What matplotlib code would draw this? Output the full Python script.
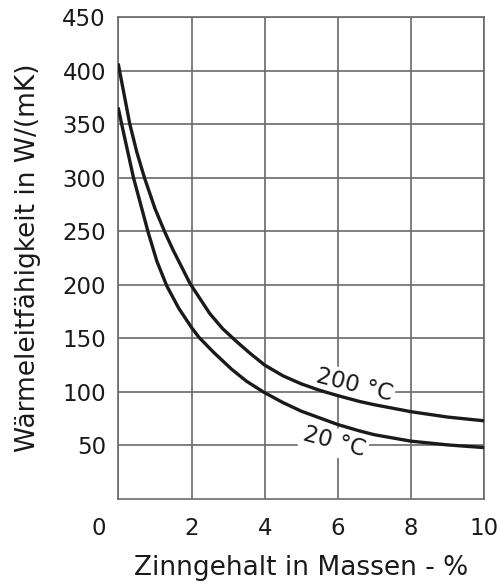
import matplotlib
matplotlib.use("Agg")
import matplotlib.pyplot as plt
from matplotlib.transforms import ScaledTranslation

plt.rcParams['font.family'] = ['DejaVu Sans']

# Werte
zinn_200 = [0, 0.31, 0.5, 0.71, 1.0, 1.27, 1.5, 1.96, 2.5, 2.85, 3.23, 3.6, 4, 4.5, 5, 5.5, 6, 6.6, 7, 8, 9, 10]
lambda_200 = [405, 350, 324, 300, 271, 249, 232, 201, 173, 159, 147, 136, 125, 115, 107.5, 101.5, 96.5, 91, 88, 81.5, 76.5, 73]

zinn_20 = [0, 0.1, 0.41, 0.82, 1.05, 1.32, 1.65, 2, 2.2, 2.6, 3.1, 3.5, 3.96, 4.5, 5, 6, 6.6, 7, 8, 9, 10]
lambda_20 = [364, 348, 300, 248, 222, 199, 178, 160, 151, 137, 121, 110, 100, 90, 82, 69.5, 63.5, 60, 54, 50.5, 48]

x_ticks = [0, 2, 4, 6, 8, 10]
y_ticks = [50, 100, 150, 200, 250, 300, 350, 400, 450]

grid_col = '#6a6a6a'
line_col = '#1a1a1a'
txt_col = '#1a1a1a'

fig = plt.figure(figsize=(5.01, 5.86), dpi=100)
ax = fig.add_axes([0.2365, 0.1485, 0.7295, 0.8225])

ax.plot(zinn_200, lambda_200, color=line_col, lw=2.4, zorder=3)
ax.plot(zinn_20, lambda_20, color=line_col, lw=2.4, zorder=3)

ax.set_xlim(0, 10)
ax.set_ylim(0, 450)
ax.set_xticks(x_ticks)
ax.set_yticks(y_ticks)
ax.set_xticklabels([str(v) for v in x_ticks])
ax.grid(True, color=grid_col, lw=1.2)
ax.set_axisbelow(True)
for sp in ax.spines.values():
    sp.set_color(grid_col)
    sp.set_linewidth(1.2)

ax.tick_params(axis='both', length=0, labelsize=16.5, colors=txt_col)
ax.tick_params(axis='y', pad=9)
ax.tick_params(axis='x', pad=13)

# "0" sitzt links neben der Achse in der Ecke
lab0 = ax.get_xticklabels()[0]
lab0.set_transform(lab0.get_transform() + ScaledTranslation(-20 / 100, 0, fig.dpi_scale_trans))

ax.set_ylabel('Wärmeleitfähigkeit in W/(mK)', fontsize=19, va='center', color=txt_col)
ax.yaxis.set_label_coords(-0.2476, 0.5)
ax.set_xlabel('Zinngehalt in Massen - %', fontsize=19, va='center', color=txt_col)
ax.xaxis.set_label_coords(0.5, -0.143)

box = dict(facecolor='white', edgecolor='none', pad=2)
ax.text(6.44, 106, '200 °C', fontsize=16.5, rotation=-14, ha='center', va='center',
        rotation_mode='anchor', bbox=box, zorder=2, color=txt_col)
ax.text(5.9, 53, '20 °C', fontsize=16.5, rotation=-15, ha='center', va='center',
        rotation_mode='anchor', bbox=box, zorder=2, color=txt_col)

fig.savefig('out.png', dpi=100)
